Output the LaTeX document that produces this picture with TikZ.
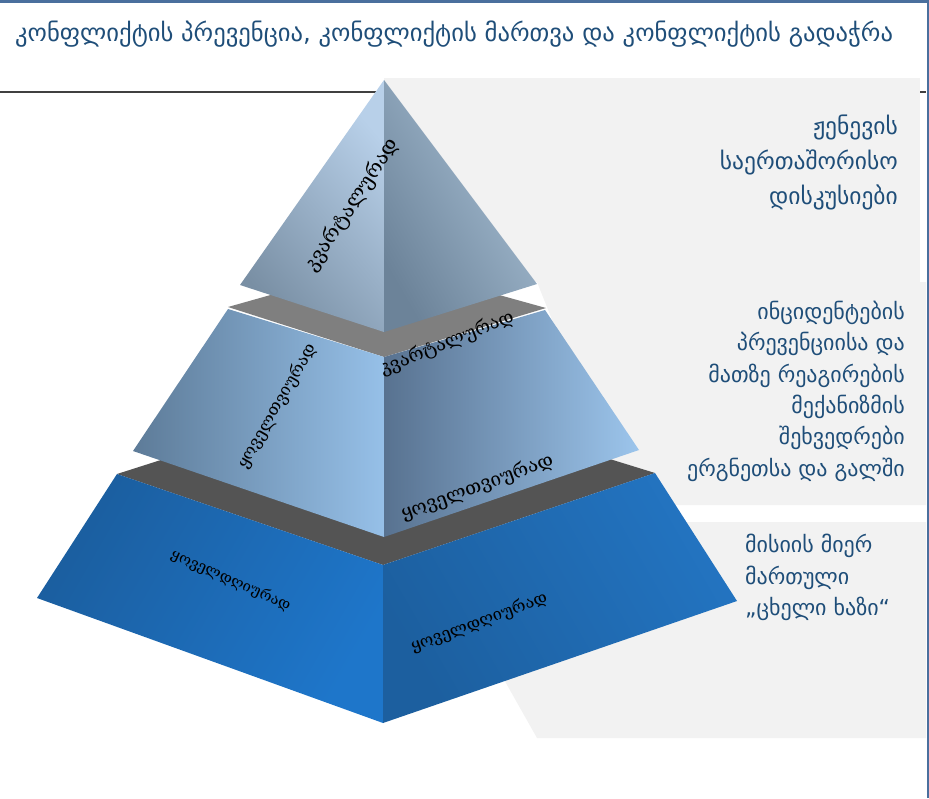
\documentclass[tikz,border=0pt]{standalone}
\usepackage{fontspec}
\setmainfont{DejaVu Sans}
\newfontfamily\layerfont{DejaVu Serif}

\definecolor{titleblue}{HTML}{1F4E79}
\definecolor{frameblue}{HTML}{4A6F9D}
\definecolor{panelgray}{HTML}{F2F2F2}
\definecolor{rulegray}{HTML}{404040}
\definecolor{bandlight}{HTML}{7F7F7F}
\definecolor{banddark}{HTML}{545454}
\definecolor{topdark}{HTML}{798FA4}
\definecolor{toplight}{HTML}{B8D0E9}
\definecolor{toprdark}{HTML}{6C8399}
\definecolor{toprlight}{HTML}{A9C1D6}
\definecolor{middark}{HTML}{5D7B98}
\definecolor{midlight}{HTML}{96C0E8}
\definecolor{midrdark}{HTML}{587290}
\definecolor{midrlight}{HTML}{9CC5EC}
\definecolor{botdark}{HTML}{1B5E9F}
\definecolor{botlight}{HTML}{1E76CA}
\definecolor{botrdark}{HTML}{1C5F9F}
\definecolor{botrlight}{HTML}{2374C1}

\begin{document}
\begin{tikzpicture}[x=1pt, y=-1pt,
    panel/.style={fill=panelgray},
    sidetext/.style={
        font=\fontsize{22}{31.3}\selectfont,
        text=titleblue,
        align=right,
        inner sep=0pt
    },
    layerlabel/.style={
        font=\layerfont\fontsize{18.5}{18.5}\selectfont,
        inner sep=0pt
    }
]
\useasboundingbox (0,0) rectangle (929,798);

%%%%%%%%%%%%%%%%%%%%%%%%
% Frame, title and rule
%%%%%%%%%%%%%%%%%%%%%%%%

\draw[frameblue, line width=2.5pt] (0,1.25) -- (927.75,1.25) -- (927.75,798);

\node[anchor=west, font=\fontsize{24.6}{24.6}\selectfont, text=titleblue, inner sep=0pt]
    (title) at (15,34) {კონფლიქტის პრევენცია, კონფლიქტის მართვა და კონფლიქტის გადაჭრა};

\draw[rulegray, line width=2pt] (0,91.5) -- (926,91.5);

%%%%%%%%%%%%%%%%%%%%%%%%
% Gray panels
%%%%%%%%%%%%%%%%%%%%%%%%

\fill[panel] (384,78) rectangle (920,282);
\fill[panel] (537,282) -- (926,282) -- (926,505) -- (626,505) -- cycle;
\fill[panel] (415,522) -- (926,522) -- (926,738) -- (537,738) -- cycle;

%%%%%%%%%%%%%%%%%%%%%%%%
% Pyramid
%%%%%%%%%%%%%%%%%%%%%%%%

% --- Bottom layer ---
\fill[banddark] (117,474) -- (383,389) -- (655,473) -- (383,565) -- cycle;
\shade[left color=botdark, right color=botlight, shading angle=60]
    (117,474) -- (383,565) -- (383,723) -- (37,598) -- cycle;
\shade[left color=botrdark, right color=botrlight, shading angle=120]
    (383,565) -- (655,473) -- (737,601) -- (383,723) -- cycle;

% --- Middle layer ---
\fill[bandlight] (228,307) -- (384,263) -- (546,308) -- (384,357) -- cycle;
\shade[left color=middark, right color=midlight]
    (228,309) -- (384,357) -- (384,537) -- (133,451) -- cycle;
\shade[left color=midrdark, right color=midrlight]
    (384,357) -- (545,310) -- (639,450) -- (384,537) -- cycle;

% --- Top layer ---
\shade[left color=topdark, right color=toplight, shading angle=130]
    (384,80) -- (384,332) -- (240,285) -- cycle;
\shade[left color=toprdark, right color=toprlight, shading angle=120]
    (384,80) -- (537,284) -- (384,332) -- cycle;

% --- Layer labels ---
\node[layerlabel, rotate=57, font=\layerfont\fontsize{20}{20}\selectfont] (topleft) at (352,205) {კვარტალურად};
\node[layerlabel, rotate=22] (midtop) at (447,343) {კვარტალურად};
\node[layerlabel, rotate=60, font=\layerfont\fontsize{16.7}{16.7}\selectfont] (midleft) at (277,406) {ყოველთვიურად};
\node[layerlabel, rotate=20, font=\layerfont\fontsize{19}{19}\selectfont] (midright) at (477,487) {ყოველთვიურად};
\node[layerlabel, rotate=-24, font=\layerfont\fontsize{14.8}{14.8}\selectfont] (botleft) at (231,580) {ყოველდღიურად};
\node[layerlabel, rotate=20, font=\layerfont\fontsize{16.5}{16.5}\selectfont] (botright) at (479,622) {ყოველდღიურად};

%%%%%%%%%%%%%%%%%%%%%%%%
% Side texts
%%%%%%%%%%%%%%%%%%%%%%%%

\node[sidetext, anchor=north east, font=\fontsize{23.5}{35}\selectfont] (geneva) at (898,115)
    {ჟენევის\\საერთაშორისო\\დისკუსიები};
\node[sidetext, anchor=north east] (iprm) at (905,301)
    {ინციდენტების\\პრევენციისა და\\მათზე რეაგირების\\მექანიზმის\\შეხვედრები\\ერგნეთსა და გალში};
\node[sidetext, anchor=north west, align=left, font=\fontsize{22}{31.5}\selectfont] (hotline) at (745,534)
    {მისიის მიერ\\მართული\\„ცხელი ხაზი“};

\end{tikzpicture}
\end{document}
